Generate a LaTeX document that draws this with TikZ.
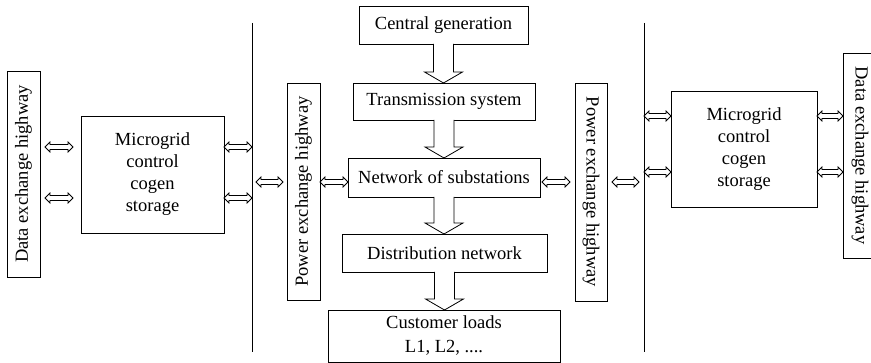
\documentclass[tikz,border=0pt]{standalone}
\usepackage{fontspec}
\setmainfont{Liberation Serif}
\usetikzlibrary{calc}

\tikzset{
  box/.style={draw, line width=0.9pt, inner sep=0pt, outer sep=0pt,
    align=center, font=\fontsize{18.5}{22}\selectfont},
  hollow/.style={draw, line width=0.8pt, fill=white, line join=miter},
  bus/.style={line width=1pt}
}

% small hollow double-headed arrow between two points on one row
\newcommand\dblarrow[2]{%
  \draw[hollow] let \p1=#1, \p2=#2 in
    (\x1,\y1) -- (\x1+5pt,\y1+5pt) -- (\x1+5pt,\y1+2.5pt) -- (\x2-5pt,\y1+2.5pt)
    -- (\x2-5pt,\y1+5pt) -- (\x2,\y1) -- (\x2-5pt,\y1-5pt) -- (\x2-5pt,\y1-2.5pt)
    -- (\x1+5pt,\y1-2.5pt) -- (\x1+5pt,\y1-5pt) -- cycle;}

% wide hollow downward arrow from the bottom of one box to the top of the next
\newcommand\bigdown[2]{%
  \draw[hollow] let \p1=#1, \p2=#2 in
    (\x1-10pt,\y1) -- (\x1-10pt,\y2+11pt) -- (\x1-19pt,\y2+11pt) -- (\x1,\y2)
    -- (\x1+19pt,\y2+11pt) -- (\x1+10pt,\y2+11pt) -- (\x1+10pt,\y1);}

\begin{document}
\begin{tikzpicture}[x=1pt, y=-1pt]
\useasboundingbox (0,0) rectangle (871,363);

% central chain
\node[box, minimum width=169pt, minimum height=38pt] (cen)   at (443.5,25)  {Central generation};
\node[box, minimum width=182pt, minimum height=37pt] (trans) at (444,101.5) {Transmission system};
\node[box, minimum width=192pt, minimum height=39pt] (net)   at (444,177.5) {Network of substations};
\node[box, minimum width=205pt, minimum height=38pt] (dist)  at (444.5,253)  {Distribution network};
\node[box, minimum width=232pt, minimum height=52pt, font=\fontsize{18.5}{24}\selectfont]
  (cust) at (444,336) {Customer loads\\L1, L2, ....};

\bigdown{(cen.south)}{(trans.north)}
\bigdown{(trans.south)}{(net.north)}
\bigdown{(net.south)}{(dist.north)}
\bigdown{(dist.south)}{(cust.north)}

% highways
\node[box, rotate=90,  minimum width=206pt, minimum height=33pt] (dataL) at (23.5,174)  {Data exchange highway};
\node[box, rotate=90,  minimum width=217pt, minimum height=33pt] (powL)  at (303.5,191.5) {Power exchange highway};
\node[box, rotate=-90, minimum width=218pt, minimum height=32pt] (powR)  at (591,192)   {Power exchange highway};
\node[box, rotate=-90, minimum width=205pt, minimum height=34pt] (dataR) at (860,155.5) {Data exchange highway};

% microgrids
\node[box, minimum width=143pt, minimum height=117pt] (mgL) at (152.5,174.5) {Microgrid\\control\\cogen\\storage};
\node[box, minimum width=146pt, minimum height=116pt] (mgR) at (744,149) {Microgrid\\control\\cogen\\storage};

% bus lines
\coordinate (bLt) at (252,23);  \coordinate (bLb) at (252,352);
\coordinate (bRt) at (644,23);  \coordinate (bRb) at (644,352);
\draw[bus] (bLt) -- (bLb);
\draw[bus] (bRt) -- (bRb);

% rows of the exchange arrows
\coordinate (rA) at (0,147);
\coordinate (rB) at (0,198);
\coordinate (rC) at (0,182);
\coordinate (rD) at (0,116);
\coordinate (rE) at (0,172);

% left side
\dblarrow{($(dataL.south |- rA)+(5,0)$)}{($(mgL.west |- rA)+(-8,0)$)}
\dblarrow{($(dataL.south |- rB)+(5,0)$)}{($(mgL.west |- rB)+(-8,0)$)}
\dblarrow{(mgL.east |- rA)}{(bLt |- rA)}
\dblarrow{(mgL.east |- rB)}{(bLt |- rB)}
\dblarrow{($(bLt |- rC)+(4,0)$)}{($(powL.north |- rC)+(-4,0)$)}
\dblarrow{(powL.south |- rC)}{(net.west |- rC)}

% right side
\dblarrow{($(net.east |- rC)+(2,0)$)}{($(powR.south |- rC)+(-5,0)$)}
\dblarrow{($(powR.north |- rC)+(5,0)$)}{($(bRt |- rC)+(-5,0)$)}
\dblarrow{(bRt |- rD)}{(mgR.west |- rD)}
\dblarrow{(bRt |- rE)}{(mgR.west |- rE)}
\dblarrow{(mgR.east |- rD)}{(dataR.south |- rD)}
\dblarrow{(mgR.east |- rE)}{(dataR.south |- rE)}
\end{tikzpicture}
\end{document}
